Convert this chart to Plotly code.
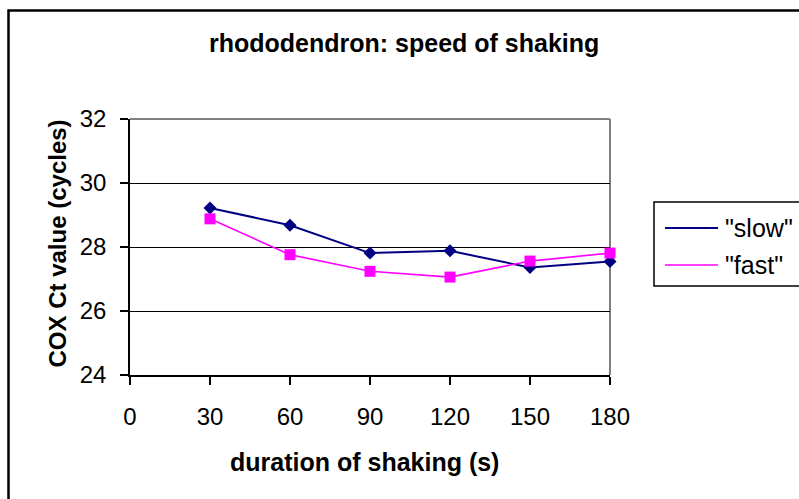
import plotly.graph_objects as go

# --- data -------------------------------------------------------------
durations = [30, 60, 90, 120, 150, 180]
ct_slow = [29.22, 28.68, 27.81, 27.88, 27.36, 27.55]
ct_fast = [28.88, 27.76, 27.24, 27.06, 27.56, 27.81]
x_ticks = [0, 30, 60, 90, 120, 150, 180]
y_ticks = [24, 26, 28, 30, 32]
series_names = ['"slow"', '"fast"']
series_colors = ["#000080", "#FF00FF"]
series_symbols = ["diamond", "square"]
series_sizes = [10, 11]
series_widths = [2, 1.6]

# --- layout geometry (pixels) ------------------------------------------
W, H = 799, 499
L, R, T, B = 130, 610, 119, 375
FONT = "Liberation Sans, Arial, sans-serif"


def px(x):
    return (x - L) / (R - L)


def py(y):
    return (B - y) / (B - T)


fig = go.Figure()

for name, vals, col, sym, size, lw in zip(
    series_names, [ct_slow, ct_fast], series_colors, series_symbols,
    series_sizes, series_widths
):
    fig.add_trace(go.Scatter(
        x=durations, y=vals, name=name, mode="lines+markers",
        line=dict(color=col, width=lw),
        marker=dict(symbol=sym, size=size, color=col),
        cliponaxis=False, showlegend=False,
    ))

# legend glyphs on an overlay axis expressed in paper units
legend_rows = [228, 265]
for name, col, sym, size, row in zip(series_names, series_colors,
                                      series_symbols, series_sizes, legend_rows):
    fig.add_trace(go.Scatter(
        x=[px(692)], y=[py(row)], xaxis="x2", yaxis="y2", mode="markers",
        marker=dict(symbol=sym, size=size, color=col),
        cliponaxis=False, showlegend=False, hoverinfo="skip",
    ))

shapes = [
    # chart border
    dict(type="rect", xref="paper", yref="paper", x0=px(8.5), x1=px(840),
         y0=py(10.5), y1=py(540), line=dict(color="black", width=2.5)),
    # plot area frame (top and right)
    dict(type="line", xref="paper", yref="paper", x0=0, x1=1, y0=1, y1=1,
         line=dict(color="#808080", width=2), layer="below"),
    dict(type="line", xref="paper", yref="paper", x0=1, x1=1, y0=0, y1=1,
         line=dict(color="#808080", width=2), layer="below"),
    # legend box
    dict(type="rect", xref="paper", yref="paper", x0=px(654), x1=px(840),
         y0=py(202), y1=py(286), line=dict(color="black", width=1.5)),
]
for col, lw, row in zip(series_colors, series_widths, legend_rows):
    shapes.append(dict(type="line", xref="paper", yref="paper",
                       x0=px(665), x1=px(718), y0=py(row), y1=py(row),
                       line=dict(color=col, width=lw)))

annotations = [
    dict(text="<b>rhododendron: speed of shaking</b>", x=px(404), y=py(43),
         xref="paper", yref="paper", xanchor="center", yanchor="middle",
         showarrow=False, font=dict(size=25, family=FONT, color="black")),
    dict(text="<b>COX Ct value (cycles)</b>", x=px(56.5), y=py(244),
         xref="paper", yref="paper", xanchor="center", yanchor="middle",
         textangle=-90, showarrow=False,
         font=dict(size=24, family=FONT, color="black")),
    dict(text="<b>duration of shaking (s)</b>", x=px(364), y=py(462),
         xref="paper", yref="paper", xanchor="center", yanchor="middle",
         showarrow=False, font=dict(size=25, family=FONT, color="black")),
]
for name, row in zip(series_names, legend_rows):
    annotations.append(dict(
        text=name, x=px(723), y=py(row), xref="paper", yref="paper",
        xanchor="left", yanchor="middle", showarrow=False,
        font=dict(size=25, family=FONT, color="black")))

fig.update_layout(
    width=W, height=H,
    margin=dict(l=L, r=W - R, t=T, b=H - B, pad=0),
    paper_bgcolor="white", plot_bgcolor="white",
    font=dict(family=FONT, size=24, color="black"),
    showlegend=False,
    xaxis=dict(
        range=[0, 180], tickvals=x_ticks, ticktext=[str(v) for v in x_ticks],
        showgrid=False, zeroline=False,
        showline=True, linecolor="black", linewidth=1.5,
        ticks="outside", ticklen=8, tickwidth=1.5, tickcolor="black",
        ticklabelstandoff=11, tickfont=dict(size=24, family=FONT),
    ),
    yaxis=dict(
        range=[24, 32], tickvals=y_ticks, ticktext=[str(v) for v in y_ticks],
        showgrid=True, gridcolor="black", gridwidth=1.3, zeroline=False,
        showline=True, linecolor="black", linewidth=1.5,
        ticks="outside", ticklen=8, tickwidth=1.5, tickcolor="black",
        ticklabelstandoff=9, tickfont=dict(size=24, family=FONT),
    ),
    xaxis2=dict(overlaying="x", range=[0, 1], visible=False, anchor="y2"),
    yaxis2=dict(overlaying="y", range=[0, 1], visible=False, anchor="x2"),
    shapes=shapes,
    annotations=annotations,
)

fig.write_html("out.html")
